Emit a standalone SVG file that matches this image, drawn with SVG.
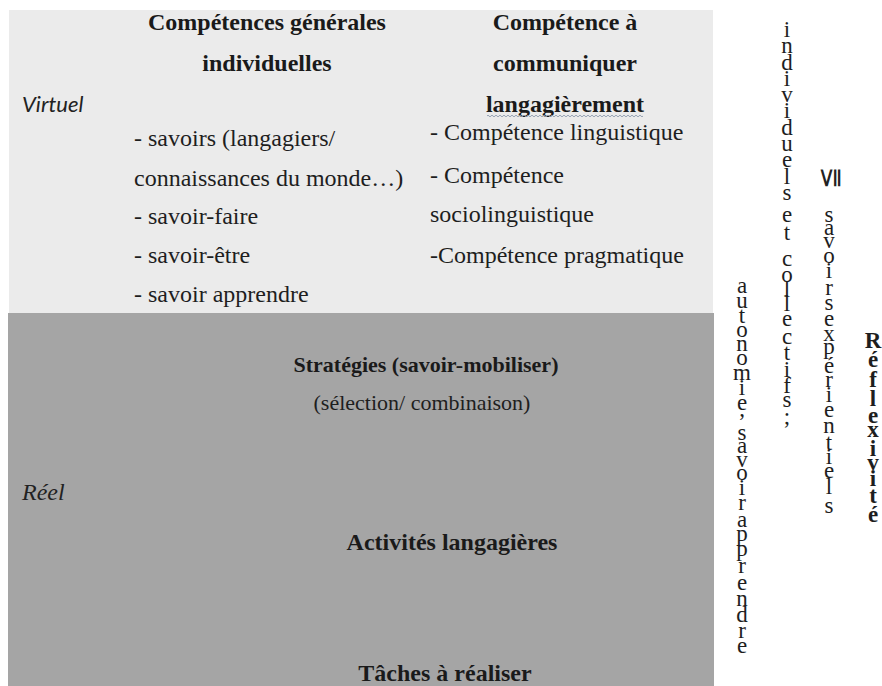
<svg xmlns="http://www.w3.org/2000/svg" width="882" height="686" viewBox="0 0 882 686">
<defs>
<style>
.hd{font-family:"Liberation Serif",serif;font-weight:bold;font-size:24px;fill:#1a1a1a;text-anchor:middle}
.bd{font-family:"Liberation Serif",serif;font-size:24px;fill:#1e1e1e}
.lab{font-style:italic;fill:#222}
.vt{font-family:"Liberation Serif",serif;font-size:23px;fill:#1e1e1e;text-anchor:middle}
</style>
<pattern id="wave" x="487" y="114" width="4" height="4" patternUnits="userSpaceOnUse">
<path d="M0,2 Q1,0.3 2,2 T4,2" fill="none" stroke="#8c9aad" stroke-width="0.9"/>
</pattern>
</defs>
<rect width="882" height="686" fill="#ffffff"/>
<g id="virtuel-panel">
<rect x="9" y="10" width="704" height="303" fill="#ebebeb"/>
<text class="lab" x="22" y="112" style="font-family:Lato,'Liberation Sans',sans-serif;font-size:22px">Virtuel</text>
</g>
<g id="reel-panel">
<rect x="8" y="313" width="706" height="373" fill="#a5a5a5"/>
<text class="lab" x="22" y="500" style="font-family:'Liberation Serif',serif;font-size:24px">Réel</text>
</g>
<g id="competences-generales">
<text class="hd" x="267" y="30">Compétences générales</text>
<text class="hd" x="267" y="71">individuelles</text>
<text class="bd" x="134" y="146">- savoirs (langagiers/</text>
<text class="bd" x="134" y="186">connaissances du monde…)</text>
<text class="bd" x="134" y="224">- savoir-faire</text>
<text class="bd" x="134" y="263">- savoir-être</text>
<text class="bd" x="134" y="302">- savoir apprendre</text>
</g>
<g id="competence-communiquer">
<text class="hd" x="565" y="30">Compétence à</text>
<text class="hd" x="565" y="71">communiquer</text>
<text class="hd" x="565" y="112">langagièrement</text>
<rect x="487" y="114" width="156" height="4" fill="url(#wave)"/>
<text class="bd" x="430" y="140">- Compétence linguistique</text>
<text class="bd" x="430" y="183">- Compétence</text>
<text class="bd" x="430" y="222">sociolinguistique</text>
<text class="bd" x="430" y="263">-Compétence pragmatique</text>
</g>
<g id="strategies">
<text class="hd" x="426" y="372" style="font-size:22px">Stratégies (savoir-mobiliser)</text>
<text class="bd" x="422" y="410" style="font-size:22px;text-anchor:middle">(sélection/ combinaison)</text>
</g>
<g id="activites">
<text class="hd" x="452" y="550">Activités langagières</text>
</g>
<g id="taches">
<text class="hd" x="445" y="681">Tâches à réaliser</text>
</g>
<g id="vertical-texts">
<text class="vt" x="742 742 742 742 742 742 742 742 742 742 742 742 742 742 742 742 742 742 742 742 742 742 742 742 742 742 742" y="293 308 323 337 351 365 380 395 410 416 428 440 453 467 480 495 510 518 527 541 556 573 590 606 622 638 653">autonomie, savoir apprendre</text>
<text class="vt" x="787 787 787 787 787 787 787 787 787 787 787 787 787 787 787 787 787 787 787 787 787 787 787 787 787 787 787" y="37 53 70 86 102 118 135 151 167 184 200 211 222 240 253 266 282 297 311 326 344 360 377 393 407 415 424">individuels et collectifs ;</text>
<text font-family="DejaVu Sans,sans-serif" font-size="27" fill="#222" text-anchor="middle" transform="translate(829 178) rotate(-90)" y="9">≦</text>
<text class="vt" x="829 829 829 829 829 829 829 829 829 829 829 829 829 829 829 829 829 829 829 829 829" y="222 235 248 263 278 295 310 318 326 341 354 373 387 402 417 433 450 464 478 494 513">savoirs expérientiels</text>
<text class="vt" font-weight="bold" x="873 873 873 873 873 873 873 873 873 873 873" y="348 367 387 406 423 437 456 470 486 503 522">Réflexivité</text>
</g>
<g id="connectors"/>
</svg>
